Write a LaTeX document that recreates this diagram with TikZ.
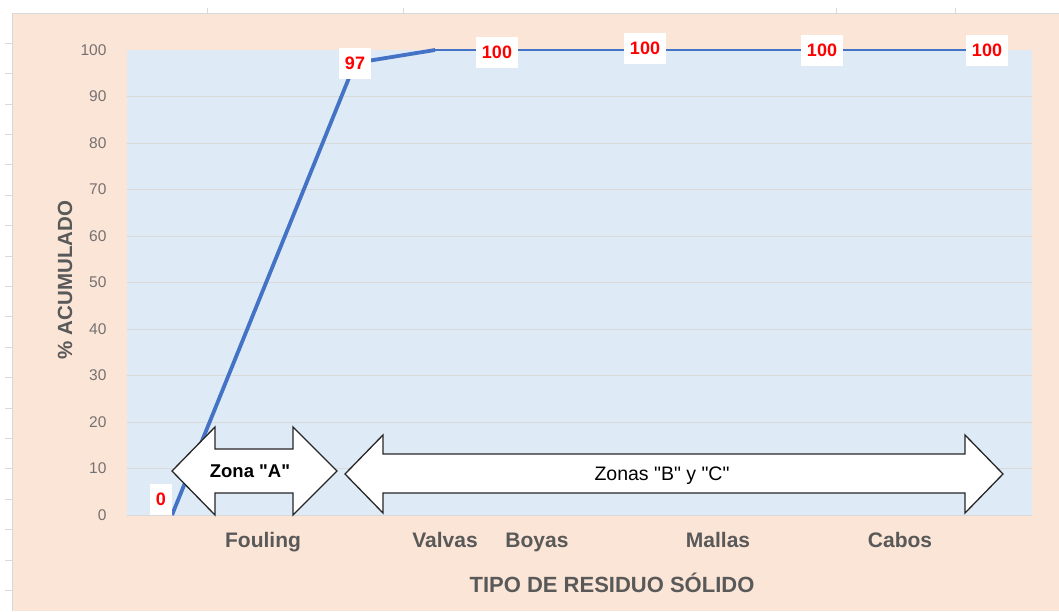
\documentclass[tikz,border=0pt]{standalone}
\usepackage{fontspec}
\setmainfont{Liberation Sans}[Ligatures=TeXOff]
\usetikzlibrary{positioning}
\definecolor{peach}{HTML}{FBE5D6}
\definecolor{plotblue}{HTML}{DEEBF7}
\definecolor{gridgray}{HTML}{D9D9D9}
\definecolor{linecol}{HTML}{4472C4}
\definecolor{ticktext}{HTML}{767171}
\definecolor{titletext}{HTML}{595959}

\begin{document}
\begin{tikzpicture}[x=1pt,y=-1pt,join=round,
  datalbl/.style={fill=white,text=red,font=\fontsize{18}{18}\selectfont\bfseries,inner xsep=6pt,inner ysep=0pt,minimum height=31pt},
  ticklbl/.style={anchor=east,text=ticktext,font=\fontsize{15.5}{15.5}\selectfont},
  catlbl/.style={anchor=base,text=titletext,font=\fontsize{21}{21}\selectfont\bfseries},
  zonearrow/.style={draw=black!85,fill=white,line width=1.3pt,join=miter}] % Pareto Chart
         \useasboundingbox (0,0) rectangle (1059,611);
         \fill[white](0,0) rectangle (1059,611);
         \fill[peach](12,13) rectangle (1059,611);
         \draw[gridgray](12,611)--(12,13)--(1059,13);
         \foreach \ty in {0,...,18}
            \draw[gridgray](5,{43+30.4*\ty})--(12,{43+30.4*\ty});
         \foreach \tx in {207,403,836,955}
            \draw[gridgray](\tx,13)--(\tx,8);
         \fill[plotblue](127,50) rectangle (1032,515);
         \foreach \v in {0,10,...,90}
            \draw[gridgray](127,{515-4.65*\v})--(1032,{515-4.65*\v});
         \foreach \v in {0,10,...,100}
            \node[ticklbl] (t\v) at (110,{515-4.65*\v}) {\v};
         % cumulative line
         \coordinate (p0) at (172,515);
         \coordinate (p1) at (355,63);
         \coordinate (p2) at (435,50);
         \coordinate (p3) at (497,50);
         \coordinate (p4) at (645,50);
         \coordinate (p5) at (822,50);
         \coordinate (p6) at (987,50);
         \draw[linecol,line width=2pt](p2)--(p3)--(p4)--(p5)--(p6);
         \draw[linecol,line width=3.8pt](p0)--(p1)--(p2);
         % zone arrows
         \filldraw[zonearrow](172,471)--(215,427)--(215,449)--(293,449)--(293,427)--(337,471)
                 --(293,515)--(293,493)--(215,493)--(215,515)--cycle;
         \filldraw[zonearrow](345,474)--(383,435)--(383,454)--(965,454)--(965,435)--(1003,474)
                 --(965,513)--(965,493)--(383,493)--(383,513)--cycle;
         \node[font=\fontsize{18.5}{18.5}\selectfont\bfseries] (zonaA) at (250,471) {Zona "A"};
         \node[font=\fontsize{19.5}{20}\selectfont] (zonaBC) at (662,476) {Zonas "B" y "C"};
         % data labels
         \node[datalbl] (l0) at (161,499) {0};
         \node[datalbl] (l1) at (355,63) {97};
         \node[datalbl] (l3) at (497,52) {100};
         \node[datalbl] (l4) at (645,48) {100};
         \node[datalbl] (l5) at (822,50) {100};
         \node[datalbl] (l6) at (987,50) {100};
         % axes
         \node[catlbl] (fouling) at (263,547.5) {Fouling};
         \node[catlbl] (valvas) at (445,547.5) {Valvas};
         \node[catlbl] (boyas) at (537,547.5) {Boyas};
         \node[catlbl] (mallas) at (718,547.5) {Mallas};
         \node[catlbl] (cabos) at (900,547.5) {Cabos};
         \node[catlbl,anchor=center,font=\fontsize{22}{22}\selectfont\bfseries] (xtitle) at (612,583) {TIPO DE RESIDUO SÓLIDO};
         \node[catlbl,anchor=center,rotate=90,font=\fontsize{20.5}{20.5}\selectfont\bfseries] (ytitle) at (65,280) {\% ACUMULADO};
      \end{tikzpicture}
\end{document}
